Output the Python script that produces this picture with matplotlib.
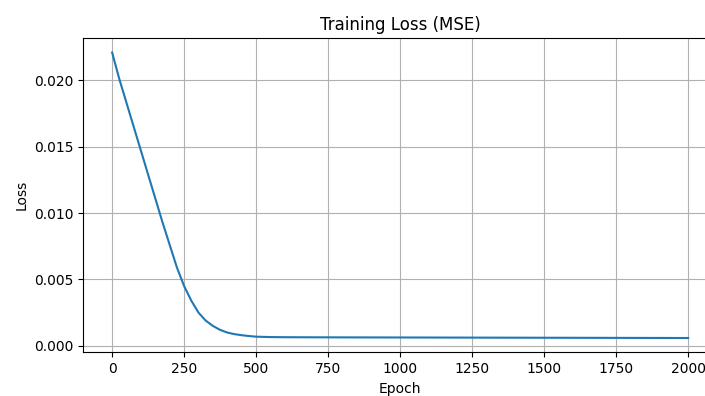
import numpy as np
import matplotlib.pyplot as plt

# Curva de loss
epocas = [0, 25, 50, 75, 100, 125, 150, 175, 200, 225, 250, 275, 300, 325, 350,
          375, 400, 425, 450, 475, 500, 550, 600, 750, 1000, 1250, 1500, 1750, 2000]
loss = [0.0221, 0.0201, 0.0183, 0.0165, 0.0147, 0.0129, 0.0111, 0.0093, 0.0076,
        0.0059, 0.0045, 0.0034, 0.0025, 0.0019, 0.0015, 0.0012, 0.0010, 0.00088,
        0.0008, 0.00074, 0.00069, 0.00066, 0.00065, 0.00064, 0.00063, 0.00062,
        0.00061, 0.0006, 0.00059]

fig = plt.figure(figsize=(7.05, 3.96), dpi=100)
# a imagem original esta cortada na direita, entao o eixo passa da borda
ax = fig.add_axes([0.1182, 0.1104, 0.8987, 0.793])

ax.plot(epocas, loss)
ax.set_title('Training Loss (MSE)')
ax.set_xlabel('Epoch')
ax.set_ylabel('Loss')
ax.grid(True)

plt.savefig('out.png')
